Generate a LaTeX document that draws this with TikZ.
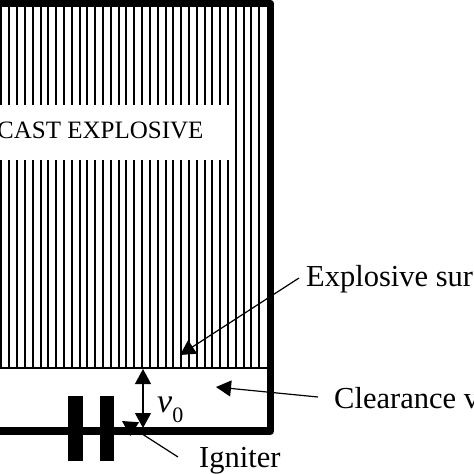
\documentclass[tikz,border=0pt]{standalone}
\usepackage{fontspec}
\setmainfont{Liberation Serif}
\usetikzlibrary{arrows.meta}
\tikzset{
    wall/.style={line width=7.5pt, line join=round},
    hatch/.style={line width=2pt},
    bigtip/.style={-{Triangle[length=15pt,width=16pt]}},
    doubletip/.style={{Triangle[length=15pt,width=16pt]}-{Triangle[length=15pt,width=16pt]}},
    label/.style={font=\fontsize{30.5}{30.5}\selectfont, inner sep=0pt, anchor=base west}
}
\begin{document}
\begin{tikzpicture}[x=1pt,y=-1pt]
    \useasboundingbox (0,0) rectangle (474,474);
    \foreach \k in {-1,...,32} {
        \draw[hatch] ({9.3+7.81*\k},4) -- ({9.3+7.81*\k},368);
    }
    \draw[line width=2pt] (0,368) -- (267,368);
    \fill[white] (0,105) rectangle (232,160);
    \node[font=\fontsize{25}{25}\selectfont, inner sep=0pt, anchor=base west] (cast) at (-3,138) {CAST EXPLOSIVE};
    \draw[wall] (0,3.5) -- (270.5,3.5) -- (270.5,431) -- (0,431);
    \fill (68,396) rectangle (83,461);
    \fill (100,396) rectangle (114,461);
    \node[label] (surface) at (306,286) {Explosive sur};
    \node[label] (clearance) at (334,408) {Clearance v};
    \node[label] (igniter) at (199,467) {Igniter};
    \node[font=\fontsize{34}{34}\selectfont, inner sep=0pt, anchor=base west] (gap) at (157,412) {\textit{v}\raisebox{-10pt}{\fontsize{22}{22}\selectfont 0}};
    \coordinate (surfacetail) at (299,278);
    \coordinate (surfacetip) at (180,355);
    \coordinate (clearancetail) at (318,397);
    \coordinate (clearancetip) at (216,387);
    \coordinate (ignitertail) at (178,457);
    \coordinate (ignitertip) at (122,421);
    \coordinate (gaptop) at (143,369);
    \coordinate (gapbottom) at (143,428);
    \draw[bigtip, line width=1.2pt] (surfacetail) -- (surfacetip);
    \draw[bigtip, line width=1.2pt] (clearancetail) -- (clearancetip);
    \draw[bigtip, line width=1.2pt] (ignitertail) -- (ignitertip);
    \draw[doubletip, line width=1.2pt] (gaptop) -- (gapbottom);
\end{tikzpicture}
\end{document}
